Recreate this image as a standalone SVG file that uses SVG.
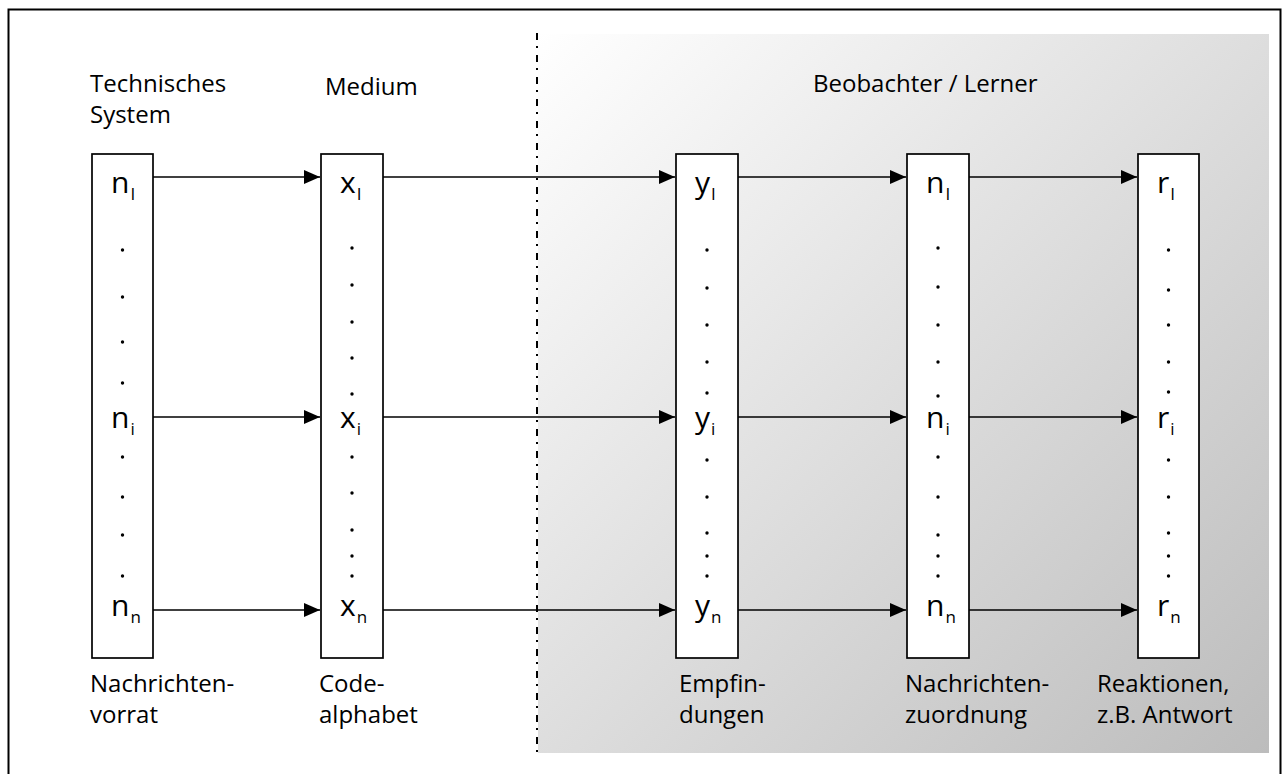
<svg xmlns="http://www.w3.org/2000/svg" width="1282" height="774" viewBox="0 0 1282 774">
<defs>
<linearGradient id="bg" x1="0" y1="0" x2="1" y2="1">
<stop offset="0" stop-color="#ffffff"/>
<stop offset="1" stop-color="#bcbcbc"/>
</linearGradient>
<marker id="ah" markerUnits="userSpaceOnUse" markerWidth="17" markerHeight="15" refX="16" refY="7" orient="auto">
<path d="M0,0 L16,7 L0,14 Z" fill="#000"/>
</marker>
</defs>
<style>
.lbl{font-family:"Open Sans","Liberation Sans",sans-serif;font-size:24px;fill:#000}
.sym{font-family:"Open Sans","Liberation Sans",sans-serif;font-size:30px;font-weight:500;fill:#000}
.sub{font-size:17px;font-weight:400}
.box{fill:#fff;stroke:#000;stroke-width:1.7}
.arr{stroke:#000;stroke-width:1.5;fill:none;marker-end:url(#ah)}
.dot{fill:#000}
</style>
<rect x="8.5" y="9.5" width="1272" height="775" fill="#fff" stroke="#000" stroke-width="2"/>
<rect x="538" y="34" width="731" height="719" fill="url(#bg)"/>
<line x1="537" y1="33" x2="537" y2="755" stroke="#000" stroke-width="2" stroke-dasharray="7 6 2 7"/>

<g id="title-technisches" class="lbl"><text x="90" y="92">Technisches</text><text x="90" y="123">System</text></g>
<g id="title-medium" class="lbl"><text x="325" y="95">Medium</text></g>
<g id="title-beobachter" class="lbl"><text x="813" y="92">Beobachter / Lerner</text></g>

<g id="connectors">
<line class="arr" x1="153" y1="177" x2="320" y2="177"/>
<line class="arr" x1="153" y1="417" x2="320" y2="417"/>
<line class="arr" x1="153" y1="610" x2="320" y2="610"/>
<line class="arr" x1="383" y1="177" x2="675" y2="177"/>
<line class="arr" x1="383" y1="417" x2="675" y2="417"/>
<line class="arr" x1="383" y1="610" x2="675" y2="610"/>
<line class="arr" x1="738" y1="177" x2="906" y2="177"/>
<line class="arr" x1="738" y1="417" x2="906" y2="417"/>
<line class="arr" x1="738" y1="610" x2="906" y2="610"/>
<line class="arr" x1="969" y1="177" x2="1137" y2="177"/>
<line class="arr" x1="969" y1="417" x2="1137" y2="417"/>
<line class="arr" x1="969" y1="610" x2="1137" y2="610"/>
</g>

<g id="node-nachrichtenvorrat">
<rect class="box" x="92" y="154" width="61" height="504"/>
<text class="sym" x="111" y="193">n<tspan class="sub" dx="1" dy="7">I</tspan></text>
<text class="sym" x="111" y="428">n<tspan class="sub" dx="1" dy="7">i</tspan></text>
<text class="sym" x="111" y="616">n<tspan class="sub" dx="1" dy="7">n</tspan></text>
<g class="dot"><circle cx="122.5" cy="250" r="1.7"/><circle cx="122.5" cy="297" r="1.7"/><circle cx="122.5" cy="342" r="1.7"/><circle cx="122.5" cy="383" r="1.7"/><circle cx="122.5" cy="457" r="1.7"/><circle cx="122.5" cy="497" r="1.7"/><circle cx="122.5" cy="535" r="1.7"/><circle cx="122.5" cy="576" r="1.7"/></g>
<g class="lbl"><text x="90" y="692">Nachrichten-</text><text x="90" y="723">vorrat</text></g>
</g>

<g id="node-codealphabet">
<rect class="box" x="321" y="154" width="62" height="504"/>
<text class="sym" x="340" y="193">x<tspan class="sub" dx="1" dy="7">I</tspan></text>
<text class="sym" x="340" y="428">x<tspan class="sub" dx="1" dy="7">i</tspan></text>
<text class="sym" x="340" y="616">x<tspan class="sub" dx="1" dy="7">n</tspan></text>
<g class="dot"><circle cx="352" cy="248" r="1.7"/><circle cx="352" cy="285" r="1.7"/><circle cx="352" cy="322" r="1.7"/><circle cx="352" cy="358" r="1.7"/><circle cx="352" cy="394" r="1.7"/><circle cx="352" cy="457" r="1.7"/><circle cx="352" cy="493" r="1.7"/><circle cx="352" cy="530" r="1.7"/><circle cx="352" cy="556" r="1.7"/><circle cx="352" cy="576" r="1.7"/></g>
<g class="lbl"><text x="319" y="692">Code-</text><text x="319" y="723">alphabet</text></g>
</g>

<g id="node-empfindungen">
<rect class="box" x="676" y="154" width="62" height="504"/>
<text class="sym" x="695" y="193">y<tspan class="sub" dx="1" dy="7">I</tspan></text>
<text class="sym" x="695" y="428">y<tspan class="sub" dx="1" dy="7">i</tspan></text>
<text class="sym" x="695" y="616">y<tspan class="sub" dx="1" dy="7">n</tspan></text>
<g class="dot"><circle cx="707" cy="250" r="1.7"/><circle cx="707" cy="288" r="1.7"/><circle cx="707" cy="325" r="1.7"/><circle cx="707" cy="362" r="1.7"/><circle cx="707" cy="393" r="1.7"/><circle cx="707" cy="460" r="1.7"/><circle cx="707" cy="497" r="1.7"/><circle cx="707" cy="533" r="1.7"/><circle cx="707" cy="556" r="1.7"/><circle cx="707" cy="576" r="1.7"/></g>
<g class="lbl"><text x="679" y="692">Empfin-</text><text x="679" y="723">dungen</text></g>
</g>

<g id="node-nachrichtenzuordnung">
<rect class="box" x="907" y="154" width="62" height="504"/>
<text class="sym" x="926" y="193">n<tspan class="sub" dx="1" dy="7">I</tspan></text>
<text class="sym" x="926" y="428">n<tspan class="sub" dx="1" dy="7">i</tspan></text>
<text class="sym" x="926" y="616">n<tspan class="sub" dx="1" dy="7">n</tspan></text>
<g class="dot"><circle cx="938" cy="248" r="1.7"/><circle cx="938" cy="287" r="1.7"/><circle cx="938" cy="325" r="1.7"/><circle cx="938" cy="362" r="1.7"/><circle cx="938" cy="396" r="1.7"/><circle cx="938" cy="457" r="1.7"/><circle cx="938" cy="497" r="1.7"/><circle cx="938" cy="535" r="1.7"/><circle cx="938" cy="556" r="1.7"/><circle cx="938" cy="576" r="1.7"/></g>
<g class="lbl"><text x="905" y="692">Nachrichten-</text><text x="905" y="723">zuordnung</text></g>
</g>

<g id="node-reaktionen">
<rect class="box" x="1138" y="154" width="61" height="504"/>
<text class="sym" x="1157" y="193">r<tspan class="sub" dx="1" dy="7">I</tspan></text>
<text class="sym" x="1157" y="428">r<tspan class="sub" dx="1" dy="7">i</tspan></text>
<text class="sym" x="1157" y="616">r<tspan class="sub" dx="1" dy="7">n</tspan></text>
<g class="dot"><circle cx="1168.5" cy="250" r="1.7"/><circle cx="1168.5" cy="290" r="1.7"/><circle cx="1168.5" cy="325" r="1.7"/><circle cx="1168.5" cy="362" r="1.7"/><circle cx="1168.5" cy="392" r="1.7"/><circle cx="1168.5" cy="460" r="1.7"/><circle cx="1168.5" cy="497" r="1.7"/><circle cx="1168.5" cy="533" r="1.7"/><circle cx="1168.5" cy="556" r="1.7"/><circle cx="1168.5" cy="576" r="1.7"/></g>
<g class="lbl"><text x="1097" y="692">Reaktionen,</text><text x="1097" y="723">z.B. Antwort</text></g>
</g>
</svg>
